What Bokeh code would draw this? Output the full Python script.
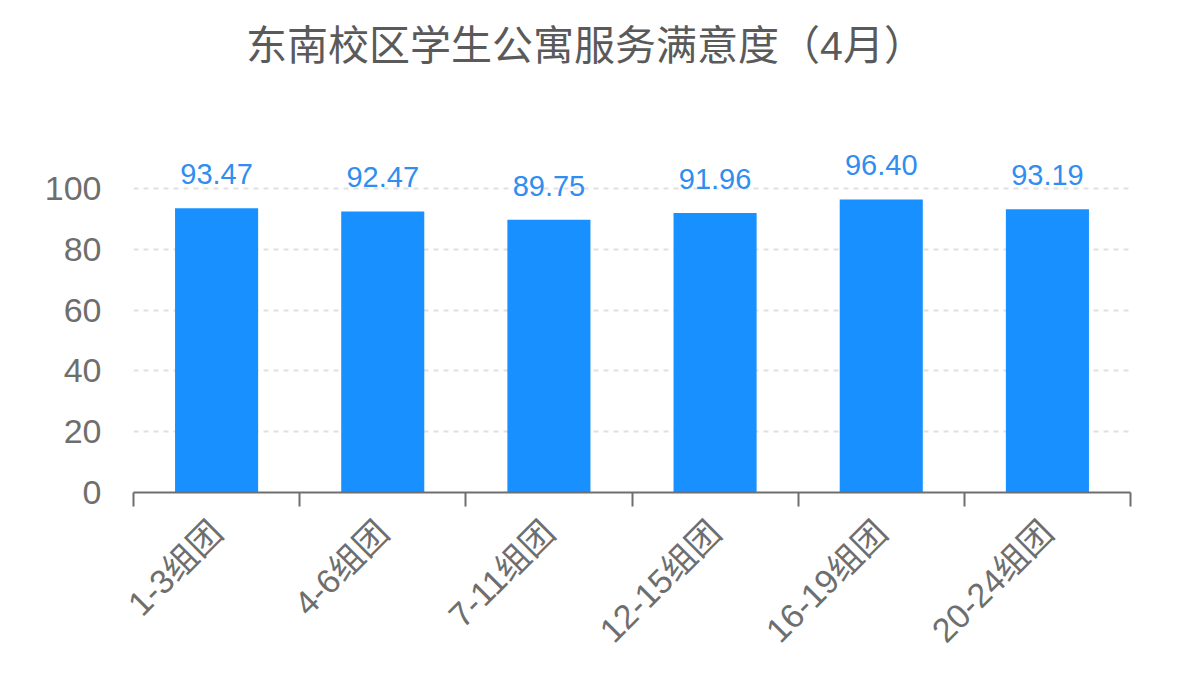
import math
from bokeh.plotting import figure
from bokeh.models import ColumnDataSource, FixedTicker, Label
from bokeh.core.properties import value
from bokeh.embed import file_html
from bokeh.resources import INLINE

title_text = "东南校区学生公寓服务满意度（4月）"
categories = ["1-3组团", "4-6组团", "7-11组团", "12-15组团", "16-19组团", "20-24组团"]
scores = [93.47, 92.47, 89.75, 91.96, 96.40, 93.19]
y_ticks = [0, 20, 40, 60, 80, 100]

BAR = "#1890ff"
GRAY = "#6e6e6e"
FONT = "'Liberation Sans', 'Noto Sans CJK SC', sans-serif"

n = len(categories)
centers = [i + 0.5 for i in range(n)]
src = ColumnDataSource(dict(x=centers, y=scores, lab=[f"{v:.2f}" for v in scores]))

p = figure(width=1170, height=674, output_backend="svg", toolbar_location=None,
           title=None, x_range=(0, n), y_range=(0, 161.84),
           min_border_left=133, min_border_right=40, min_border_top=0,
           min_border_bottom=182)
p.outline_line_color = None
p.background_fill_color = "white"
p.border_fill_color = "white"

p.vbar(x="x", top="y", width=0.5, source=src, color=BAR, line_color=None)
p.text(x="x", y="y", text="lab", source=src, text_align="center",
       text_baseline="alphabetic", y_offset=-34, text_color="#2f8ef0",
       text_font=value(FONT), text_font_size="29px")

# y axis
p.yaxis.ticker = FixedTicker(ticks=y_ticks)
p.yaxis.axis_line_color = None
p.yaxis.major_tick_line_color = None
p.yaxis.minor_tick_line_color = None
p.yaxis.major_label_standoff = 26
p.yaxis.major_label_text_font = FONT
p.yaxis.major_label_text_font_size = "34px"
p.yaxis.major_label_text_color = GRAY

# x axis: labels at centers, ticks at boundaries
p.xaxis.ticker = FixedTicker(ticks=centers, minor_ticks=list(range(n + 1)))
p.xaxis.major_label_overrides = {c: lab for c, lab in zip(centers, categories)}
p.xaxis.major_tick_out = 0
p.xaxis.major_tick_in = 0
p.xaxis.minor_tick_out = 14
p.xaxis.minor_tick_in = 0
p.xaxis.minor_tick_line_color = GRAY
p.xaxis.minor_tick_line_width = 2
p.xaxis.axis_line_color = GRAY
p.xaxis.axis_line_width = 2
p.xaxis.major_label_orientation = math.pi / 4
p.xaxis.major_label_standoff = 20
p.xaxis.major_label_text_font = FONT
p.xaxis.major_label_text_font_size = "34px"
p.xaxis.major_label_text_color = GRAY

p.xgrid.grid_line_color = None
p.ygrid.grid_line_color = "#e0e0e0"
p.ygrid.grid_line_width = 2
p.ygrid.grid_line_dash = "5 5"

p.add_layout(Label(x=452, y=447, x_units="screen", y_units="screen", text=title_text,
                   text_align="center", text_baseline="middle", text_font=FONT,
                   text_font_size="41px", text_color="#5a5a5a"))

open("out.html", "w").write(file_html(p, INLINE))
